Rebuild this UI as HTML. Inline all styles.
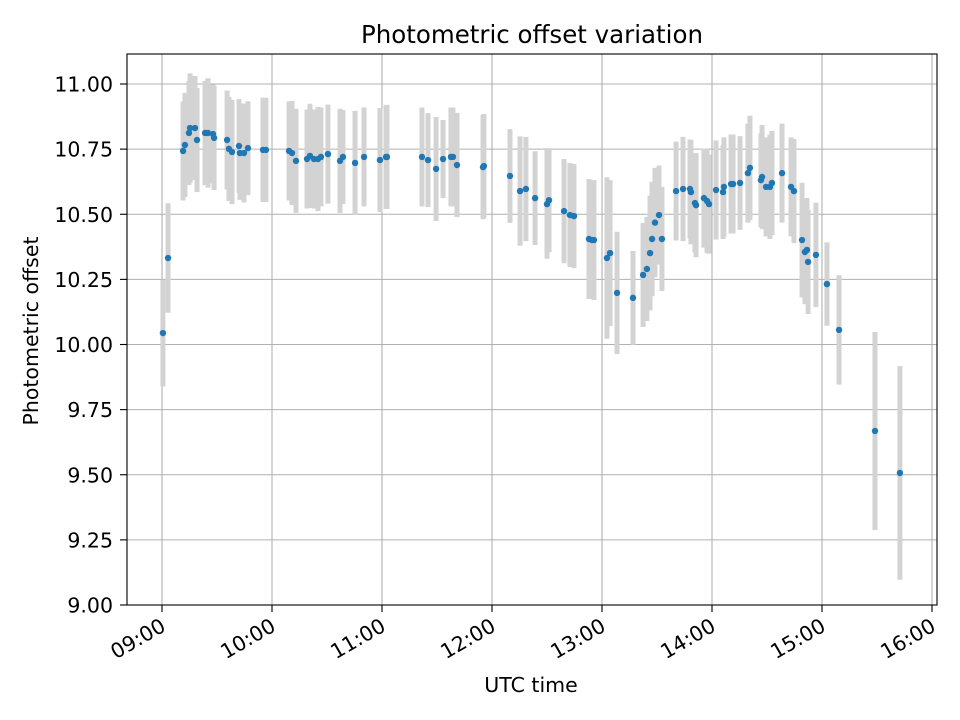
<!DOCTYPE html>
<html><head><meta charset="utf-8"><style>
html,body{margin:0;padding:0;background:#fff}
svg{display:block;font-family:"DejaVu Sans","Liberation Sans",sans-serif}
</style></head><body>
<svg id="chart" width="960" height="720" viewBox="0 0 960 720">
<rect width="960" height="720" fill="#fff"/>
<g id="grid"></g>
<g id="bars"></g>
<g id="pts"></g>
<rect x="127" y="54" width="810" height="551" fill="none" stroke="#000" stroke-width="1.1"/>
<g id="axes"></g>
<text x="532" y="43" text-anchor="middle" font-size="24.5">Photometric offset variation</text>
<text x="531" y="692" text-anchor="middle" font-size="20.5">UTC time</text>
<text x="38" y="331" text-anchor="middle" font-size="20.5" transform="rotate(-90 38 331)">Photometric offset</text>
</svg>
<script>
// minutes after 09:00
const times = [0.5,3.3,11.5,12.5,14.7,15.3,18,19.1,23.5,25.1,27.8,28.4,35.5,36.5,38.2,42,42.5,44.7,46.9,55.1,56.7,69.3,70.9,73.1,79.1,80.7,82.9,85.1,86.7,90.5,97.1,98.7,105.3,110.2,118.9,122.2,122.7,141.8,145.1,149.5,153.3,157.6,158.7,160.9,175.1,175.6,189.8,195.3,198.5,203.5,210,211.1,219.3,222.5,224.7,232.9,234.5,235.6,242.7,244.4,248.2,256.9,262.4,264.5,266.2,267.3,268.9,271.1,272.7,280.4,284.2,288,288.5,290.7,291.3,295.6,297.3,298.4,302.2,306,306.5,310.4,311.5,315.3,319.6,320.7,326.7,327.3,329.5,331.6,332.7,338.2,343.1,344.7,349.1,350.7,351.8,352.4,356.7,362.7,369.3,388.9,402.5];
const offsets = [10.044,10.332,10.743,10.766,10.812,10.831,10.831,10.785,10.812,10.812,10.808,10.793,10.785,10.751,10.739,10.762,10.735,10.735,10.754,10.747,10.747,10.743,10.735,10.705,10.712,10.724,10.712,10.712,10.720,10.731,10.705,10.720,10.697,10.720,10.708,10.720,10.720,10.720,10.708,10.674,10.712,10.720,10.720,10.689,10.681,10.685,10.647,10.589,10.597,10.562,10.539,10.554,10.512,10.497,10.493,10.405,10.401,10.401,10.332,10.351,10.198,10.179,10.267,10.290,10.351,10.405,10.468,10.497,10.405,10.589,10.597,10.597,10.585,10.543,10.535,10.562,10.551,10.539,10.593,10.585,10.605,10.616,10.616,10.620,10.658,10.678,10.631,10.643,10.605,10.605,10.620,10.658,10.605,10.589,10.401,10.355,10.363,10.317,10.344,10.232,10.056,9.668,9.507];
const errors = [0.205,0.21,0.19,0.2,0.2,0.21,0.2,0.2,0.2,0.21,0.19,0.2,0.19,0.2,0.2,0.18,0.18,0.19,0.18,0.2,0.2,0.19,0.2,0.2,0.19,0.2,0.19,0.2,0.19,0.19,0.2,0.18,0.2,0.19,0.2,0.2,0.2,0.19,0.18,0.2,0.15,0.19,0.19,0.2,0.2,0.2,0.18,0.21,0.2,0.18,0.21,0.2,0.2,0.2,0.2,0.23,0.22,0.23,0.31,0.28,0.235,0.18,0.2,0.2,0.22,0.22,0.21,0.19,0.2,0.19,0.2,0.19,0.2,0.19,0.2,0.19,0.2,0.19,0.19,0.18,0.19,0.19,0.19,0.18,0.19,0.2,0.18,0.2,0.19,0.2,0.2,0.19,0.19,0.2,0.22,0.2,0.2,0.2,0.2,0.16,0.21,0.38,0.41];
const yTicks = [9.0,9.25,9.5,9.75,10.0,10.25,10.5,10.75,11.0];
const xTickLabels = ["09:00","10:00","11:00","12:00","13:00","14:00","15:00","16:00"];
const NS="http://www.w3.org/2000/svg";
function xs(m){return 162+m*110/60;}
function ys(v){return 605-(v-9)*260.5;}
function mk(tag,attrs,parent){const e=document.createElementNS(NS,tag);for(const k in attrs)e.setAttribute(k,attrs[k]);parent.appendChild(e);return e;}
const grid=document.getElementById('grid'),axes=document.getElementById('axes'),bars=document.getElementById('bars'),pts=document.getElementById('pts');
yTicks.forEach(v=>{
  const y=ys(v);
  const g=mk('line',{x1:127,x2:937,y1:y,y2:y,stroke:'#b0b0b0','stroke-width':1.1},grid);
  
  
  const t=mk('line',{x1:120,x2:127,y1:y,y2:y,stroke:'#000','stroke-width':1.1},axes);
  
  
  const l=mk('text',{x:113,y:y+7.5,'text-anchor':'end','font-size':20.5},axes);
  l.textContent=v.toFixed(2);
  
  
});
xTickLabels.forEach((s,i)=>{
  const x=xs(i*60);
  const g=mk('line',{x1:x,x2:x,y1:54,y2:605,stroke:'#b0b0b0','stroke-width':1.1},grid);
  
  
  const t=mk('line',{x1:x,x2:x,y1:605,y2:612,stroke:'#000','stroke-width':1.1},axes);
  
  
  const l=mk('text',{x:x+5,y:630,'text-anchor':'end','font-size':20.5,transform:`rotate(-30 ${x+5} 630)`},axes);
  l.textContent=s;
  
  
});
times.forEach((m,i)=>{
  const x=xs(m);
  const b=mk('line',{x1:x,x2:x,y1:ys(offsets[i]+errors[i]),y2:ys(offsets[i]-errors[i]),stroke:'#d3d3d3','stroke-width':5},bars);
  
  
  const c=mk('circle',{cx:x,cy:ys(offsets[i]),r:3.2,fill:'#1f77b4'},pts);
  
  
});
</script>
</body></html>
